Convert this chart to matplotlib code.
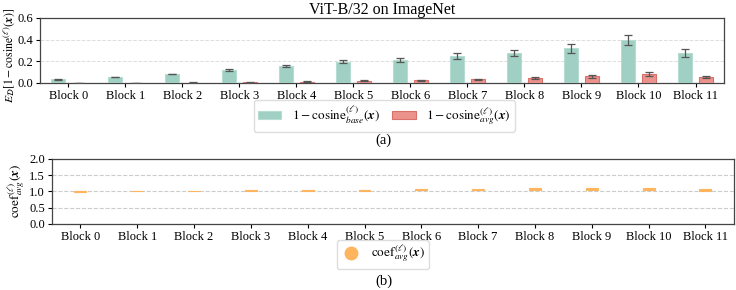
import numpy as np
import matplotlib
matplotlib.use("Agg")
import matplotlib.pyplot as plt
from matplotlib.lines import Line2D

plt.rcParams['font.family'] = ['Liberation Serif', 'DejaVu Serif']
plt.rcParams['mathtext.fontset'] = 'stix'

blocks = ["Block %d" % i for i in range(12)]
base_mean = [0.034, 0.055, 0.083, 0.120, 0.160, 0.197, 0.216, 0.250, 0.277, 0.320, 0.395, 0.277]
base_err = [0.005, 0.004, 0.004, 0.007, 0.010, 0.015, 0.018, 0.025, 0.030, 0.040, 0.047, 0.033]
avg_mean = [0.001, 0.002, 0.004, 0.007, 0.012, 0.020, 0.025, 0.034, 0.046, 0.060, 0.080, 0.055]
avg_err = [0.001, 0.001, 0.002, 0.003, 0.004, 0.005, 0.005, 0.007, 0.010, 0.014, 0.018, 0.012]
coef_mean = [1.00, 1.005, 1.01, 1.03, 1.035, 1.04, 1.045, 1.06, 1.07, 1.075, 1.085, 1.04]
coef_spread = [0.008, 0.008, 0.01, 0.015, 0.015, 0.015, 0.017, 0.02, 0.022, 0.025, 0.03, 0.02]

teal = '#a0d0c3'
red = '#ec928c'
orange = '#ffb45e'

fig = plt.figure(figsize=(7.36, 2.90), dpi=100)
ax1 = fig.add_axes([0.0543, 0.714, 0.9294, 0.224])
ax2 = fig.add_axes([0.0707, 0.228, 0.9263, 0.224])

x = np.arange(len(blocks))
w = 0.25
ax1.bar(x - 0.19, base_mean, w, yerr=base_err, color=teal, edgecolor='#b5ddd2',
        linewidth=0.8, capsize=3, error_kw=dict(ecolor='#555555', elinewidth=0.9, capthick=0.9),
        label=r'$1-\mathrm{cosine}_{base}^{(\ell)}(\boldsymbol{x})$', zorder=3)
ax1.bar(x + 0.19, avg_mean, w, yerr=avg_err, color=red, edgecolor='#d9716b',
        linewidth=0.8, capsize=3, error_kw=dict(ecolor='#555555', elinewidth=0.9, capthick=0.9),
        label=r'$1-\mathrm{cosine}_{avg}^{(\ell)}(\boldsymbol{x})$', zorder=3)
ax1.set_ylim(0, 0.6)
ax1.set_yticks([0.0, 0.2, 0.4, 0.6])
ax1.set_xlim(-0.5, 11.5)
ax1.set_xticks(x)
ax1.set_xticklabels(blocks, fontsize=9)
ax1.tick_params(axis='y', labelsize=9)
ax1.tick_params(axis='both', length=3, pad=2)
ax1.yaxis.grid(True, linestyle='--', color='#dddddd', linewidth=0.7, zorder=0)
ax1.set_ylabel(r'$E_{\mathcal{D}}[1-\mathrm{cosine}^{(\ell)}(\boldsymbol{x})]$', fontsize=8.5, labelpad=1)
ax1.yaxis.set_label_coords(-0.034, 0.42)
ax1.set_title('ViT-B/32 on ImageNet', fontsize=11.5, pad=3)
ax1.legend(loc='center', bbox_to_anchor=(0.522, 0.6), bbox_transform=fig.transFigure, ncol=2,
           fontsize=9.5, fancybox=True, framealpha=1, edgecolor='#dddddd', handlelength=1.8,
           columnspacing=0.9, borderpad=0.3, handleheight=0.6)
fig.text(0.521, 0.515, '(a)', ha='center', va='center', fontsize=10.5)

ax2.bar(x, [2 * s for s in coef_spread], 0.21, bottom=[m - s for m, s in zip(coef_mean, coef_spread)],
        color=orange, edgecolor=orange, linewidth=0.8, zorder=3)
ax2.set_ylim(0, 2.0)
ax2.set_yticks([0.0, 0.5, 1.0, 1.5, 2.0])
ax2.set_xlim(-0.5, 11.5)
ax2.set_xticks(x)
ax2.set_xticklabels(blocks, fontsize=9)
ax2.tick_params(axis='y', labelsize=9)
ax2.tick_params(axis='both', length=3, pad=2)
ax2.yaxis.grid(True, linestyle='--', color='#cccccc', linewidth=0.8, zorder=0)
ax2.set_ylabel(r'$\mathrm{coef}_{avg}^{(\ell)}(\boldsymbol{x})$', fontsize=9.5, labelpad=1)
handle = Line2D([], [], marker='o', linestyle='none', color=orange, markersize=9)
ax2.legend([handle], [r'$\mathrm{coef}_{avg}^{(\ell)}(\boldsymbol{x})$'], loc='center',
           bbox_to_anchor=(0.52, 0.121), bbox_transform=fig.transFigure, fontsize=9.5,
           fancybox=True, framealpha=1, edgecolor='#dddddd', handlelength=1.5, borderpad=0.3)
fig.text(0.521, 0.03, '(b)', ha='center', va='center', fontsize=10.5)

for ax in (ax1, ax2):
    for s in ax.spines.values():
        s.set_color('#444444')
        s.set_linewidth(0.9)
    ax.set_axisbelow(True)

fig.savefig('out.png', dpi=100)
